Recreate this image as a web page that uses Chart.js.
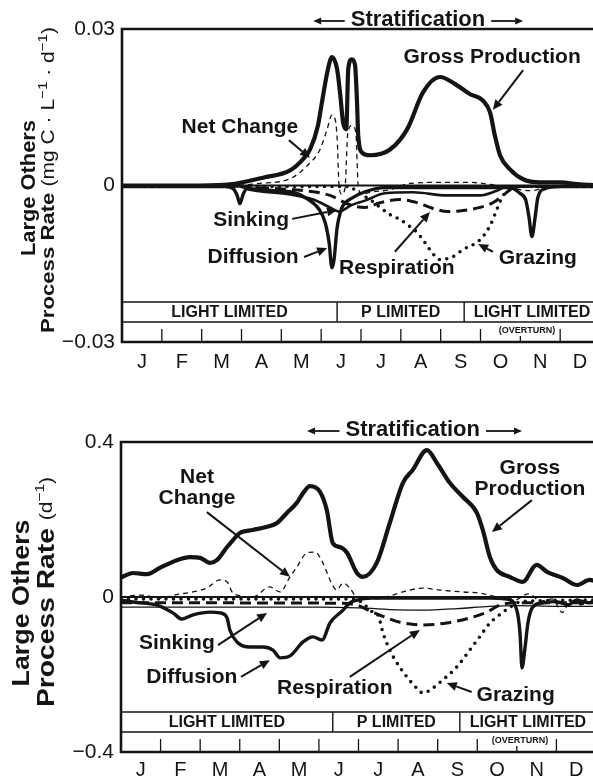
<!DOCTYPE html>
<html><head><meta charset="utf-8">
<script src="https://cdn.jsdelivr.net/npm/chart.js"></script>
<style>
html,body{margin:0;padding:0;background:#fff;overflow:hidden;width:593px;height:779px}
canvas{position:absolute;left:0}
#top{top:0}
#bot{top:392px}
</style></head><body>
<canvas id="top" width="600" height="392"></canvas>
<canvas id="bot" width="600" height="387"></canvas>
<script>
// ---------- DATA ----------
const months = ['J','F','M','A','M','J','J','A','S','O','N','D'];
const bandLabels = ['LIGHT LIMITED','P LIMITED','LIGHT LIMITED'];
const overturnLabel = '(OVERTURN)';
const stratLabel = 'Stratification';

// top panel (mg C L-1 d-1), [month, value]
const topYTicks = [-0.03, 0, 0.03];
const topYLabels = ['\u22120.03', '0', '0.03'];
const topGross = [[0,0],[1.96,0],[2.71,0.0002],[3.54,0.0015],[4.22,0.0029],[4.54,0.0050],[4.72,0.0069],[4.92,0.0115],[5.02,0.0160],[5.17,0.0223],[5.27,0.0246],[5.40,0.0223],[5.48,0.0173],[5.55,0.0121],[5.63,0.0108],[5.68,0.0223],[5.77,0.0242],[5.85,0.0231],[5.90,0.0160],[5.93,0.0096],[6.03,0.0063],[6.23,0.0058],[6.73,0.0069],[7.16,0.0108],[7.56,0.0179],[7.98,0.0208],[8.41,0.0192],[8.74,0.0175],[9.06,0.0163],[9.24,0.0140],[9.36,0.0096],[9.49,0.0058],[9.74,0.0031],[10.07,0.0012],[10.49,0.0006],[11.0,0.0006],[11.5,0.0002],[12,0]];
const topNet = [[0,0],[2.71,0],[3.46,0.0004],[4.22,0.0013],[4.65,0.0038],[4.97,0.0069],[5.15,0.0108],[5.27,0.0135],[5.35,0.0127],[5.40,0.0092],[5.45,0],[5.52,-0.0017],[5.60,-0.0004],[5.67,0.0102],[5.77,0.0115],[5.87,0.0102],[5.93,0],[6.03,-0.0017],[6.23,-0.0013],[6.73,-0.0008],[7.23,0.0004],[7.98,0.0006],[8.74,0.0006],[9.24,0.0002],[9.74,-0.0004],[10.24,-0.001],[10.75,-0.0002],[12,0]];
const topSinking = [[0,-0.0002],[2.96,-0.0002],[3.21,-0.0008],[4.22,-0.0017],[4.80,-0.0027],[5.22,-0.0042],[5.45,-0.005],[5.75,-0.0038],[6.10,-0.0029],[6.60,-0.0015],[7.31,-0.0013],[8.16,-0.0019],[8.99,-0.0019],[9.41,-0.001],[9.67,-0.0002],[12,-0.0002]];
const topDiffusion = [[0,-0.0002],[2.59,-0.0002],[2.79,-0.0006],[2.89,-0.0019],[2.96,-0.0035],[3.04,-0.0017],[3.14,-0.0006],[3.79,-0.001],[4.29,-0.0013],[4.64,-0.0025],[4.95,-0.0046],[5.10,-0.0071],[5.20,-0.011],[5.27,-0.0158],[5.32,-0.0144],[5.40,-0.0081],[5.48,-0.0052],[5.55,-0.0038],[5.75,-0.0025],[6.10,-0.0012],[6.60,-0.0004],[9.74,-0.0004],[9.99,-0.0015],[10.14,-0.0029],[10.22,-0.0062],[10.29,-0.0098],[10.37,-0.0062],[10.44,-0.0023],[10.62,-0.0006],[11.0,-0.0002],[12,-0.0002]];
const topRespiration = [[0,-0.0002],[2.96,-0.0002],[3.39,-0.0004],[4.80,-0.0012],[5.22,-0.0019],[5.72,-0.0037],[6.10,-0.0042],[6.48,-0.0033],[6.98,-0.0027],[7.41,-0.0033],[7.81,-0.0044],[8.18,-0.005],[8.56,-0.0048],[8.99,-0.0042],[9.31,-0.0033],[9.57,-0.0019],[9.74,-0.0008],[9.99,-0.0002],[12,-0.0002]];
const topGrazing = [[0,-0.0002],[5.72,-0.0002],[5.90,-0.0013],[6.23,-0.0027],[6.48,-0.0042],[6.73,-0.0056],[6.98,-0.0065],[7.23,-0.0079],[7.41,-0.009],[7.61,-0.011],[7.73,-0.0123],[7.98,-0.0142],[8.29,-0.0137],[8.56,-0.0123],[8.99,-0.0104],[9.24,-0.0077],[9.41,-0.0046],[9.57,-0.0019],[9.74,-0.0008],[9.99,-0.0002],[12,-0.0002]];
const topBandEdges = [5.40, 8.59];

// bottom panel (d-1), [month, value]
const botYTicks = [-0.4, 0, 0.4];
const botYLabels = ['\u22120.4', '0', '0.4'];
const botGross = [[0,0.05],[0.30,0.062],[0.66,0.059],[0.98,0.075],[1.41,0.095],[1.74,0.103],[2.0,0.101],[2.25,0.088],[2.42,0.095],[2.68,0.129],[2.83,0.147],[3.0,0.165],[3.33,0.173],[3.69,0.181],[3.94,0.191],[4.19,0.217],[4.44,0.243],[4.6,0.268],[4.77,0.286],[5.03,0.271],[5.20,0.224],[5.35,0.139],[5.53,0.129],[5.71,0.114],[5.96,0.062],[6.11,0.052],[6.46,0.088],[6.79,0.191],[7.12,0.294],[7.37,0.328],[7.73,0.379],[7.98,0.346],[8.31,0.294],[8.64,0.258],[8.99,0.217],[9.14,0.173],[9.32,0.103],[9.49,0.070],[9.82,0.052],[10.15,0.039],[10.5,0.083],[10.76,0.065],[11.16,0.049],[11.52,0.031],[11.84,0.044],[12,0.04]];
const botNet = [[0,0],[0.5,0.005],[1.0,-0.003],[1.4,0.006],[1.82,0.013],[2.17,0.023],[2.50,0.044],[2.68,0.039],[2.83,0.010],[3.33,0],[3.76,0.026],[4.02,0.013],[4.27,0.052],[4.44,0.077],[4.70,0.114],[4.90,0.116],[5.10,0.088],[5.28,0.044],[5.45,0.018],[5.61,0.036],[5.78,0.023],[5.96,0],[6.4,-0.005],[6.8,0.003],[7.12,0.013],[7.63,0.023],[8.06,0.018],[8.64,0.013],[9.07,0.010],[9.5,0],[9.9,-0.01],[10.3,0.008],[10.6,-0.01],[10.9,-0.005],[11.15,-0.04],[11.35,-0.01],[11.6,-0.02],[12,-0.005]];
const botSinking = [[0,-0.026],[3,-0.026],[5,-0.026],[6,-0.028],[7,-0.033],[7.6,-0.034],[8.5,-0.03],[9.3,-0.024],[10,-0.022],[11,-0.024],[12,-0.024]];
const botDiffusion = [[0,-0.008],[0.30,-0.013],[0.91,-0.021],[1.31,-0.041],[1.54,-0.057],[1.82,-0.046],[2.25,-0.039],[2.50,-0.041],[2.68,-0.054],[2.75,-0.085],[2.93,-0.116],[3.26,-0.129],[3.59,-0.129],[3.84,-0.137],[4.02,-0.157],[4.27,-0.152],[4.60,-0.116],[4.85,-0.103],[5.08,-0.111],[5.28,-0.067],[5.61,-0.034],[5.78,-0.015],[5.96,-0.008],[6.3,-0.003],[9.32,-0.003],[9.75,-0.005],[10.0,-0.034],[10.08,-0.093],[10.13,-0.183],[10.2,-0.137],[10.28,-0.067],[10.4,-0.026],[10.66,-0.015],[11.0,-0.012],[11.3,-0.02],[11.5,-0.008],[11.8,-0.015],[12,-0.012]];
const botRespiration = [[0,-0.015],[5.5,-0.016],[5.96,-0.021],[6.29,-0.036],[6.72,-0.054],[7.05,-0.065],[7.63,-0.072],[8.23,-0.067],[8.81,-0.054],[9.24,-0.039],[9.57,-0.021],[10.0,-0.015],[12,-0.015]];
const botGrazing = [[0,-0.005],[5.9,-0.005],[6.16,-0.021],[6.36,-0.039],[6.49,-0.046],[6.62,-0.093],[6.79,-0.137],[6.97,-0.17],[7.22,-0.206],[7.47,-0.235],[7.63,-0.248],[7.88,-0.235],[8.13,-0.214],[8.48,-0.181],[8.81,-0.137],[9.06,-0.103],[9.32,-0.067],[9.49,-0.052],[9.65,-0.039],[9.85,-0.025],[10.1,-0.012],[12,-0.008]];
const botBandEdges = [5.35, 8.56];

// annotations: text anchored in data units
const topNotes = [
  {lines:['Gross Production'], at:[9.29, 0.0246]},
  {lines:['Net Change'], at:[2.96, 0.0112]},
  {lines:['Sinking'], at:[3.24, -0.0066]},
  {lines:['Diffusion'], at:[3.29, -0.0137]},
  {lines:['Respiration'], at:[6.90, -0.0158]},
  {lines:['Grazing'], at:[10.44, -0.0139]}
];
const topArrows = [
  [[10.07,0.0221],[9.31,0.0145]],
  [[4.19,0.0087],[4.72,0.0053]],
  [[4.27,-0.0064],[5.40,-0.0047]],
  [[4.57,-0.0137],[5.15,-0.012]],
  [[6.85,-0.0127],[7.73,-0.0051]],
  [[9.31,-0.0127],[8.94,-0.0112]]
];
const botNotes = [
  {lines:['Net','Change'], at:[1.92, 0.31]},
  {lines:['Gross','Production'], at:[10.33, 0.333]},
  {lines:['Sinking'], at:[1.41, -0.119]},
  {lines:['Diffusion'], at:[1.79, -0.206]},
  {lines:['Respiration'], at:[5.40, -0.235]},
  {lines:['Grazing'], at:[9.97, -0.253]}
];
const botArrows = [
  [[2.17,0.219],[4.27,0.052]],
  [[10.38,0.25],[9.37,0.168]],
  [[2.45,-0.124],[3.69,-0.041]],
  [[3.03,-0.206],[3.76,-0.163]],
  [[5.78,-0.206],[7.55,-0.085]],
  [[8.86,-0.245],[8.23,-0.222]]
];

// ---------- RENDERING ----------
const INK = '#141414';
const FONT = '"Liberation Sans", Arial, Helvetica, sans-serif';
const monthCenters = months.map((_, i) => i + 0.5);

function pts(a){ return a.map(([x, y]) => ({x, y})); }
function seg(ctx, x1, y1, x2, y2){ ctx.beginPath(); ctx.moveTo(x1, y1); ctx.lineTo(x2, y2); ctx.stroke(); }
function arrow(ctx, x1, y1, x2, y2, hl, hw){
  const ang = Math.atan2(y2 - y1, x2 - x1);
  const bx = x2 - Math.cos(ang) * hl, by = y2 - Math.sin(ang) * hl;
  seg(ctx, x1, y1, bx, by);
  ctx.beginPath();
  ctx.moveTo(x2, y2);
  ctx.lineTo(bx + Math.sin(ang) * hw, by - Math.cos(ang) * hw);
  ctx.lineTo(bx - Math.sin(ang) * hw, by + Math.cos(ang) * hw);
  ctx.closePath(); ctx.fill();
}
function rotText(ctx, runs, cx, cy, len, centered){
  ctx.save();
  ctx.translate(cx, cy); ctx.rotate(-Math.PI / 2);
  let total = 0;
  runs.forEach(r => { ctx.font = r.f; r.w = ctx.measureText(r.t).width; total += r.w; });
  ctx.scale(len / total, 1);
  let p = centered ? -total / 2 : 0;
  ctx.textAlign = 'left'; ctx.textBaseline = 'middle';
  runs.forEach(r => { ctx.font = r.f; ctx.fillText(r.t, p, r.dy || 0); p += r.w; });
  ctx.restore();
}

const decor = {
  id: 'decor',
  beforeDatasetsDraw(chart, args, o){
    const {ctx, chartArea: a, scales: {y}} = chart;
    const y0 = y.getPixelForValue(0);
    ctx.save(); ctx.strokeStyle = INK; ctx.lineWidth = 2; seg(ctx, a.left, y0, a.right, y0); ctx.restore();
  },
  afterDraw(chart, args, o){
    const {ctx, chartArea: a, scales: {x, y}} = chart;
    ctx.save();
    ctx.strokeStyle = INK; ctx.fillStyle = INK;
    // frame
    ctx.lineWidth = 2.6;
    ctx.beginPath(); ctx.moveTo(a.right + 5, a.top); ctx.lineTo(a.left, a.top); ctx.lineTo(a.left, a.bottom); ctx.lineTo(a.right + 5, a.bottom); ctx.stroke();
    // limitation bands
    const b1 = a.bottom - 40, b2 = a.bottom - 20;
    ctx.lineWidth = 1.4;
    seg(ctx, a.left, b1, a.right, b1); seg(ctx, a.left, b2, a.right, b2);
    o.bandEdges.forEach(m => { const p = x.getPixelForValue(m); seg(ctx, p, b1, p, b2); });
    const edges = [x.min, ...o.bandEdges, x.max];
    ctx.font = 'bold 16px ' + FONT; ctx.textAlign = 'center'; ctx.textBaseline = 'middle';
    bandLabels.forEach((t, i) => {
      const c = (x.getPixelForValue(edges[i]) + x.getPixelForValue(edges[i + 1])) / 2;
      ctx.fillText(t, c, (b1 + b2) / 2 + 1);
    });
    // month boundary ticks
    ctx.lineWidth = 1.3;
    for (let m = 1; m < 12; m++){ const p = x.getPixelForValue(m); seg(ctx, p, a.bottom - 13, p, a.bottom); }
    // overturn
    ctx.font = 'bold 9px ' + FONT;
    const ox = x.getPixelForValue(o.overturnAt), ow = ctx.measureText(overturnLabel).width;
    ctx.fillStyle = '#fff'; ctx.fillRect(ox - ow / 2 - 1, a.bottom - 17, ow + 2, 11);
    ctx.fillStyle = INK; ctx.fillText(overturnLabel, ox, a.bottom - 11);
    // stratification
    const s = o.strat;
    ctx.font = 'bold 22px ' + FONT;
    const sx = x.getPixelForValue(s.mid), sw = ctx.measureText(stratLabel).width;
    ctx.fillText(stratLabel, sx, s.y);
    ctx.lineWidth = 1.8;
    arrow(ctx, sx - sw / 2 - 6, s.y + 1, x.getPixelForValue(s.left), s.y + 1, 8, 3.5);
    arrow(ctx, sx + sw / 2 + 6, s.y + 1, x.getPixelForValue(s.right), s.y + 1, 8, 3.5);
    // annotations
    ctx.font = 'bold 21px ' + FONT;
    o.notes.forEach(n => {
      const px = x.getPixelForValue(n.at[0]), py = y.getPixelForValue(n.at[1]);
      n.lines.forEach((t, i) => ctx.fillText(t, px, py + i * 21));
    });
    ctx.lineWidth = 2;
    o.arrows.forEach(([p, q]) => arrow(ctx, x.getPixelForValue(p[0]), y.getPixelForValue(p[1]), x.getPixelForValue(q[0]), y.getPixelForValue(q[1]), 10, 4.5));
    // axis titles
    const t = o.titles;
    rotText(ctx, t.l1.runs, t.l1.cx, t.l1.cy, t.l1.len, true);
    rotText(ctx, t.l2.runs, t.l2.cx, t.l2.cy, t.l2.len, false);
    ctx.restore();
  }
};

function series(g, n, si, d, r, gr, sinkW){
  const base = {borderColor: INK, backgroundColor: INK, pointRadius: 0, fill: false, cubicInterpolationMode: 'monotone', borderJoinStyle: 'round'};
  return [
    Object.assign({label: 'Gross Production', data: pts(g), borderWidth: 4.2, borderCapStyle: 'round'}, base),
    Object.assign({label: 'Net Change', data: pts(n), borderWidth: 1.3, borderDash: [5, 4], borderCapStyle: 'butt'}, base),
    Object.assign({label: 'Sinking', data: pts(si), borderWidth: sinkW, borderCapStyle: 'round'}, base),
    Object.assign({label: 'Diffusion', data: pts(d), borderWidth: 3.4, borderCapStyle: 'round'}, base),
    Object.assign({label: 'Respiration', data: pts(r), borderWidth: 3, borderDash: [11, 6], borderCapStyle: 'butt'}, base),
    Object.assign({label: 'Grazing', data: pts(gr), borderWidth: 3.6, borderDash: [0, 7.5], borderCapStyle: 'round'}, base)
  ];
}

function build(id, c){
  return new Chart(document.getElementById(id), {
    type: 'line',
    data: {datasets: c.datasets},
    options: {
      responsive: false, animation: false, devicePixelRatio: 1, events: [],
      layout: {padding: {top: c.padTop, right: c.padRight, left: 0, bottom: 0}},
      plugins: {legend: {display: false}, tooltip: {enabled: false}, decor: c.deco},
      scales: {
        x: {type: 'linear', min: 0, max: 12, grid: {display: false, drawTicks: false}, border: {display: false},
            afterBuildTicks: ax => { ax.ticks = monthCenters.map(v => ({value: v})); },
            afterFit: ax => { ax.height = c.xHeight; },
            ticks: {autoSkip: false, maxRotation: 0, padding: c.xPad, color: INK, font: {family: FONT, size: 20}, callback: (v, i) => months[i]}},
        y: {type: 'linear', min: c.yTicks[0], max: c.yTicks[c.yTicks.length - 1], grid: {display: false, drawTicks: false}, border: {display: false},
            afterBuildTicks: ax => { ax.ticks = c.yTicks.map(v => ({value: v})); },
            afterFit: ax => { ax.width = c.yWidth; },
            ticks: {padding: 7, color: INK, font: {family: FONT, size: 21}, callback: (v, i) => c.yLabels[i]}}
      }
    },
    plugins: [decor]
  });
}

build('top', {
  datasets: series(topGross, topNet, topSinking, topDiffusion, topRespiration, topGrazing, 2.6),
  yTicks: topYTicks, yLabels: topYLabels, yWidth: 122, xHeight: 50, xPad: 8, padTop: 29, padRight: 0,
  deco: {
    bandEdges: topBandEdges, overturnAt: 10.17,
    strat: {left: 4.80, mid: 7.43, right: 10.07, y: 20},
    notes: topNotes, arrows: topArrows,
    titles: {
      l1: {runs: [{t: 'Large Others', f: 'bold 20px ' + FONT}], cx: 29, cy: 188, len: 136},
      l2: {runs: [
        {t: 'Process Rate ', f: 'bold 19px ' + FONT},
        {t: '(mg C \u00b7 L', f: '18px ' + FONT},
        {t: '\u22121', f: '13px ' + FONT, dy: -6},
        {t: ' \u00b7 d', f: '18px ' + FONT},
        {t: '\u22121', f: '13px ' + FONT, dy: -6},
        {t: ')', f: '18px ' + FONT}], cx: 49, cy: 333, len: 306}
    }
  }
});

build('bot', {
  datasets: series(botGross, botNet, botSinking, botDiffusion, botRespiration, botGrazing, 1.3),
  yTicks: botYTicks, yLabels: botYLabels, yWidth: 121, xHeight: 27, xPad: 6, padTop: 50, padRight: 4,
  deco: {
    bandEdges: botBandEdges, overturnAt: 10.08,
    strat: {left: 4.70, mid: 7.37, right: 10.13, y: 38},
    notes: botNotes, arrows: botArrows,
    titles: {
      l1: {runs: [{t: 'Large Others', f: 'bold 24px ' + FONT}], cx: 22, cy: 211, len: 167},
      l2: {runs: [
        {t: 'Process Rate ', f: 'bold 24px ' + FONT},
        {t: '(d', f: '18px ' + FONT},
        {t: '\u22121', f: '13px ' + FONT, dy: -7},
        {t: ')', f: '18px ' + FONT}], cx: 47, cy: 315, len: 230}
    }
  }
});
</script>
</body></html>
